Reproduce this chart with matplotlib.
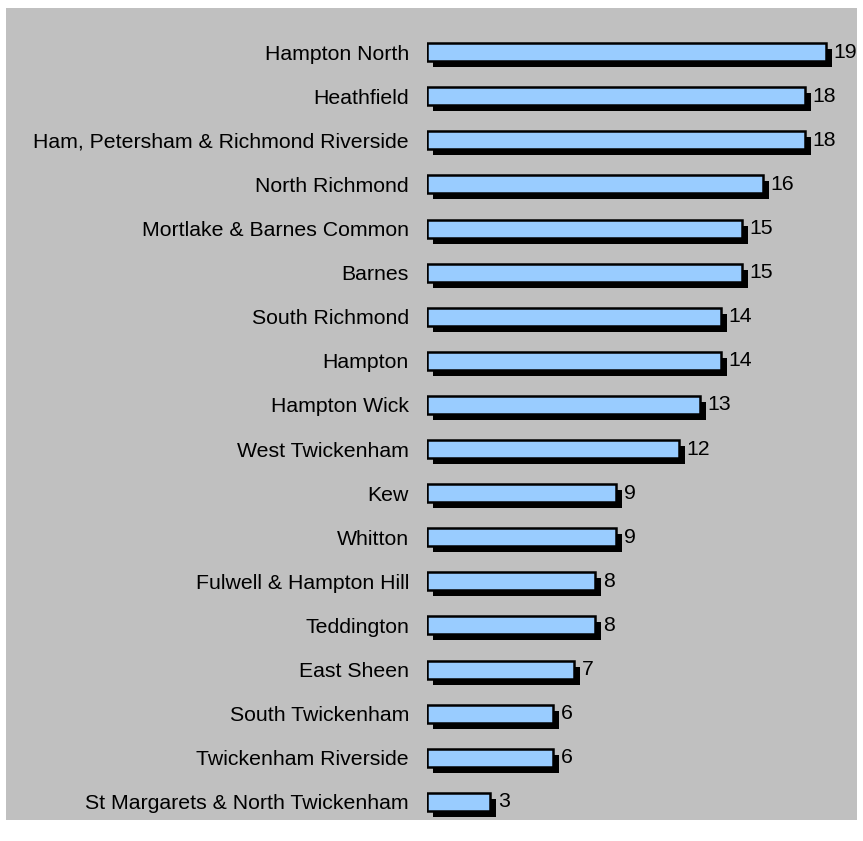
import matplotlib
matplotlib.use('Agg')
import matplotlib.pyplot as plt
import matplotlib.transforms as mtrans
from matplotlib.patches import Rectangle

wards = ['Hampton North', 'Heathfield', 'Ham, Petersham & Richmond Riverside',
         'North Richmond', 'Mortlake & Barnes Common', 'Barnes', 'South Richmond',
         'Hampton', 'Hampton Wick', 'West Twickenham', 'Kew', 'Whitton',
         'Fulwell & Hampton Hill', 'Teddington', 'East Sheen', 'South Twickenham',
         'Twickenham Riverside', 'St Margarets & North Twickenham']
counts = [19, 18, 18, 16, 15, 15, 14, 14, 13, 12, 9, 9, 8, 8, 7, 6, 6, 3]

W, H, dpi = 863, 841, 100
plt.rcParams['font.family'] = ['Liberation Sans', 'DejaVu Sans']
fig = plt.figure(figsize=(W/dpi, H/dpi), dpi=dpi)
fig.patch.set_facecolor('white')
# grey plot area
fig.patches.append(Rectangle((6/W, 1-820/H), (857-6)/W, (820-8)/H,
                             transform=fig.transFigure, facecolor='#c0c0c0',
                             edgecolor='none', zorder=-10))

# axes: value 0 at x=427, 21 px per unit; rows 43.8 px apart starting y=52
step = 43.8
top = 52 - step/2
bottom = 802 + step/2
ax = fig.add_axes([427/W, 1-bottom/H, 420/W, (bottom-top)/H])
ax.set_facecolor('none')
ax.set_xlim(0, 20)
ax.set_ylim(len(wards)-0.5, -0.5)

ypos = list(range(len(wards)))
shadow = ax.transData + mtrans.ScaledTranslation(6/dpi, -6/dpi, fig.dpi_scale_trans)
ax.barh(ypos, counts, height=0.41, color='black', transform=shadow, zorder=1)
ax.barh(ypos, counts, height=0.41, color='#99ccff', edgecolor='black',
        linewidth=1.8, zorder=2)

for y, v in zip(ypos, counts):
    ax.annotate(str(v), (v, y), xytext=(5.5, 0), textcoords='offset points',
                va='center', ha='left', fontsize=15.3, color='black')

ax.set_yticks(ypos)
ax.set_yticklabels(wards, fontsize=15.3)
ax.tick_params(axis='y', length=0, pad=13)
ax.set_xticks([])
for s in ax.spines.values():
    s.set_visible(False)

fig.savefig('out.png', dpi=dpi)
